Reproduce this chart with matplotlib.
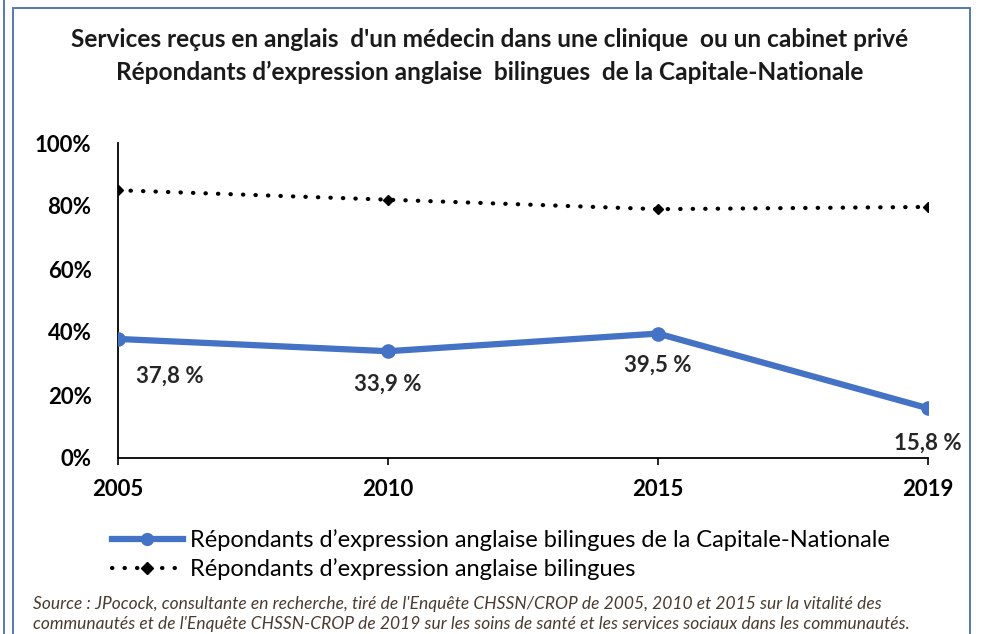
import matplotlib
matplotlib.use("Agg")
import matplotlib.pyplot as plt
from matplotlib.lines import Line2D
from matplotlib.patches import Rectangle

plt.rcParams['font.family'] = ['Lato', 'DejaVu Sans']

years = ["2005", "2010", "2015", "2019"]
capitale = [37.8, 33.9, 39.5, 15.8]
bilingues = [85.0, 82.0, 79.0, 79.7]
capitale_labels = ["37,8 %", "33,9 %", "39,5 %", "15,8 %"]
yticks = [0, 20, 40, 60, 80, 100]
ytick_labels = ["0%", "20%", "40%", "60%", "80%", "100%"]

title = ("Services reçus en anglais  d'un médecin dans une clinique  ou un cabinet privé\n"
         "Répondants d’expression anglaise  bilingues  de la Capitale-Nationale")
leg1 = "Répondants d’expression anglaise bilingues de la Capitale-Nationale"
leg2 = "Répondants d’expression anglaise bilingues"
source = ("Source : JPocock, consultante en recherche, tiré de l'Enquête CHSSN/CROP de 2005, 2010 et 2015 sur la vitalité des\n"
          "communautés et de l'Enquête CHSSN-CROP de 2019 sur les soins de santé et les services sociaux dans les communautés.")

W, H = 981, 634
fig = plt.figure(figsize=(W / 100, H / 100), dpi=100)

# frame lines
fig.add_artist(Rectangle((13 / W, -0.05), (970 - 13) / W, 1.05 - 8 / H,
                         transform=fig.transFigure, fill=False,
                         edgecolor="#4a6ea9", linewidth=1.3))
fig.add_artist(Line2D([4 / W, 4 / W], [0, 1], transform=fig.transFigure,
                      color="#4a6ea9", linewidth=1.3))

ax = fig.add_axes([118 / W, 1 - 458 / H, (928 - 118) / W, (458 - 143) / H])
x = list(range(len(years)))

blue = "#4472C4"
dotted = (0, (0.1, 2.9))
ax.plot(x, capitale, color=blue, linewidth=4.5, marker="o", markersize=9.5,
        solid_capstyle="round", zorder=3)
ax.plot(x, bilingues, color="black", linewidth=3, linestyle=dotted,
        dash_capstyle="round", marker="D", markersize=5, zorder=3)

offsets = [(37, -27), (0, -24), (0, -23), (0, -25)]
for xi, v, lab, off in zip(x, capitale, capitale_labels, offsets):
    ax.annotate(lab, (xi, v), xytext=off, textcoords="offset points",
                ha="center", va="center", fontsize=16, fontweight="bold",
                color="#262626")

ax.set_xlim(0, 3)
ax.set_ylim(0, 100)
ax.set_xticks(x)
ax.set_xticklabels(years, fontsize=16, fontweight="bold")
ax.set_yticks(yticks)
ax.set_yticklabels(ytick_labels, fontsize=16, fontweight="bold")
ax.tick_params(axis="y", length=0, pad=19)
ax.tick_params(axis="x", length=5, width=1.2, direction="out", pad=10)
for s in ["top", "right"]:
    ax.spines[s].set_visible(False)
ax.spines["left"].set_linewidth(1.3)
ax.spines["bottom"].set_linewidth(1.3)
ax.patch.set_alpha(0)

fig.text(490 / W, 1 - 56 / H, title, ha="center", va="center", fontsize=17.6,
         fontweight="bold", linespacing=1.5, color="#1a1a1a")

handles = [
    Line2D([], [], color=blue, linewidth=4.5, marker="o", markersize=8.5),
    Line2D([], [], color="black", linewidth=3, linestyle=dotted,
           dash_capstyle="round", marker="D", markersize=6),
]
fig.legend(handles, [leg1, leg2], loc="upper left",
           bbox_to_anchor=(112 / W, 1 - 529 / H), frameon=False,
           fontsize=17, handlelength=3.0, handletextpad=0.3,
           labelspacing=0.3, borderaxespad=0, borderpad=0)

fig.text(33 / W, 1 - 614 / H, source, ha="left", va="center", fontsize=12.5,
         style="italic", color="#4a3b30", linespacing=1.35)

fig.savefig("out.png", dpi=100)
